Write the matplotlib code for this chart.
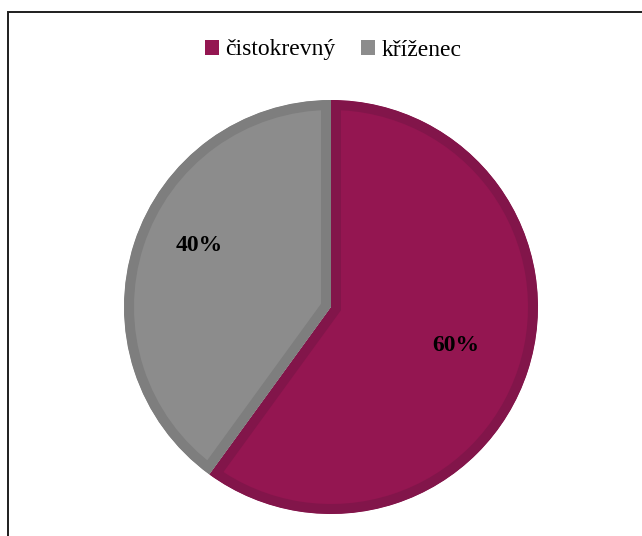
import numpy as np
import matplotlib
matplotlib.use('Agg')
import matplotlib.pyplot as plt
from matplotlib.patches import Patch, Rectangle, Wedge

labels = ['čistokrevný', 'kříženec']
values = [60, 40]
colors = ['#941651', '#8c8c8c']
edge_colors = ['#82154a', '#7e7e7e']

plt.rcParams['font.family'] = ['Liberation Serif', 'DejaVu Serif']

W, H = 642, 536
fig = plt.figure(figsize=(W / 100, H / 100), dpi=100)
ax = fig.add_axes([0, 0, 1, 1])

# pie centre and radius in pixels
cx, cy, r = 331, H - 307, 207
wedges, _, pcts = ax.pie(values, colors=colors, startangle=90, counterclock=False,
                         center=(cx, cy), radius=r, autopct='%1.0f%%',
                         textprops=dict(fontsize=17, fontweight='bold', color='black'))

# darker inner rim, ~10px wide: stroke twice as wide, clipped to the wedge
for w, ec in zip(wedges, edge_colors):
    clip = Wedge(w.center, w.r, w.theta1, w.theta2, transform=ax.transData)
    w.set_edgecolor(ec)
    w.set_linewidth(14.4)
    w.set_clip_on(True)  # pie turns clipping off
    w.set_clip_path(clip)

# label placement (fraction of radius, angle in degrees)
label_pos = [(0.63, -17), (0.70, 155)]
for t, (f, a) in zip(pcts, label_pos):
    t.set_position((cx + f * r * np.cos(np.radians(a)), cy + f * r * np.sin(np.radians(a))))

ax.set_xlim(0, W)
ax.set_ylim(0, H)
ax.set_aspect('equal')
ax.axis('off')

handles = [Patch(facecolor=c, label=l) for c, l in zip(colors, labels)]
fig.legend(handles=handles, loc='center', bbox_to_anchor=(333 / W, 1 - 50 / H),
           ncol=2, frameon=False, fontsize=17, handlelength=0.6, handleheight=0.6,
           handletextpad=0.25, columnspacing=1.1)

# outer chart border (only top and left are visible)
fig.patches.append(Rectangle((8 / W, -0.1), 1.0, 1 - 12 / H + 0.1,
                             transform=fig.transFigure, fill=False,
                             lw=1.4, ec='#1e1e1e'))

fig.savefig('out.png', dpi=100)
